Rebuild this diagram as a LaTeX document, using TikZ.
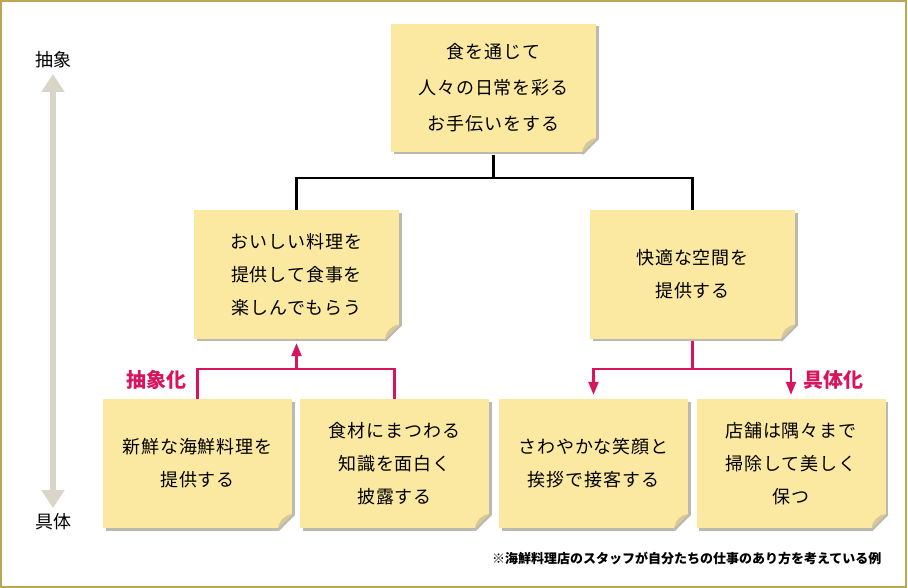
\documentclass[tikz,border=0pt]{standalone}
\usepackage{fontspec}
\usetikzlibrary{arrows.meta, shadows}
\newfontfamily\jpfont{Noto Sans CJK JP}
\newfontfamily\handfont[LetterSpace=5]{Noto Sans CJK JP}
\definecolor{notefill}{HTML}{FBE9A2}
\definecolor{noteshadow}{HTML}{BDB9AE}
\definecolor{notecurl}{HTML}{D8C79A}
\definecolor{pinkline}{HTML}{D7145E}
\definecolor{axisgray}{HTML}{D9D6C9}
\definecolor{framegold}{HTML}{BBA653}

\begin{document}
\begin{tikzpicture}[x=1pt, y=-1pt,
    note/.style={fill=notefill, align=center, inner sep=0pt,
        font=\handfont\fontsize{18}{33}\selectfont,
        drop shadow={shadow xshift=2.5pt, shadow yshift=-2.5pt, fill=noteshadow, opacity=1}},
    bignote/.style={note, minimum width=205, minimum height=128},
    smallnote/.style={note, minimum width=189, minimum height=129},
    tie/.style={line width=2.3pt, black},
    pinkwire/.style={line width=2.3pt, pinkline},
    pinkarrow/.style={pinkwire, -{Triangle[width=10pt, length=13pt]}},
    ]
    % Page and frame
    \useasboundingbox (0,0) rectangle (908,588);
    \draw[framegold, line width=2pt] (1,1) rectangle (905.5,586.5);

    % Notes
    \node[bignote, font=\handfont\fontsize{18}{36}\selectfont] (goal) at (493.5, 88) {食を通じて\\人々の日常を彩る\\お手伝いをする};
    \node[bignote] (food) at (296.5, 274.5) {おいしい料理を\\提供して食事を\\楽しんでもらう};
    \node[bignote] (space) at (692.5, 274.5) {快適な空間を\\提供する};
    \node[smallnote] (fresh) at (197.5, 463.5) {新鮮な海鮮料理を\\提供する};
    \node[smallnote] (lore) at (394.5, 463.5) {食材にまつわる\\知識を面白く\\披露する};
    \node[smallnote] (smile) at (593.5, 463.5) {さわやかな笑顔と\\挨拶で接客する};
    \node[smallnote] (tidy) at (791, 463.5) {店舗は隅々まで\\掃除して美しく\\保つ};

    % Curled corners
    \foreach \n in {goal, food, space, fresh, lore, smile, tidy}
    {
        \begin{scope}[shift={(\n.south east)}]
            \fill[white] (-14.5,4) -- (4,4) -- (4,-14.5) -- cycle;
            \fill[noteshadow] (-14,0) -- (0,-14) -- (3,-13.5) -- (-13.5,3) -- cycle;
            \fill[notecurl] (-14,0) .. controls (-13,-8) and (-8,-13) .. (0,-14) -- cycle;
        \end{scope}
    }

    % Black tree
    \draw[tie, shorten <=2.5pt] (goal.south) -- ++(0,26) -| (food.north);
    \draw[tie, shorten <=2.5pt] (goal.south) -- ++(0,26) -| (space.north);

    % Pink arrows
    \coordinate (up) at (296,369);
    \coordinate (down) at (692,369);
    \draw[pinkwire] (fresh.north) |- (lore.north |- up) -- (lore.north);
    \draw[pinkarrow] (food.south |- up) -- ([yshift=-4.5pt]food.south);
    \draw[pinkwire, shorten <=2.5pt] (space.south) -- (space.south |- down);
    \draw[pinkarrow] (space.south |- down) -| ([yshift=4pt]smile.north);
    \draw[pinkarrow] (space.south |- down) -| ([yshift=4pt]tidy.north);
    \node[text=pinkline, font=\jpfont\bfseries\fontsize{20}{20}\selectfont] (abstr) at (156,380) {抽象化};
    \node[text=pinkline, font=\jpfont\bfseries\fontsize{20}{20}\selectfont] (concr) at (833,380) {具体化};

    % Axis on the left
    \node[font=\jpfont\fontsize{18}{18}\selectfont] (top) at (53,60) {抽象};
    \node[font=\jpfont\fontsize{18}{18}\selectfont] (bottom) at (53,522) {具体};
    \draw[axisgray, line width=6.5pt, shorten <=2pt, shorten >=2pt,
        {Triangle[width=22pt, length=18pt]}-{Triangle[width=22pt, length=18pt]}] (top.south) -- (bottom.north);

    % Footnote
    \node[font=\jpfont\bfseries\fontsize{13}{13}\selectfont, anchor=east] (remark) at (885,558) {※海鮮料理店のスタッフが自分たちの仕事のあり方を考えている例};
\end{tikzpicture}
\end{document}
